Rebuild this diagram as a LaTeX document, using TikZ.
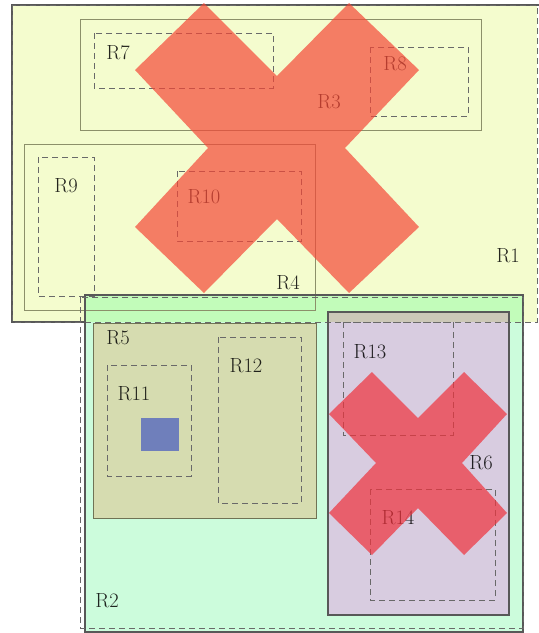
\documentclass[tikz,border=0pt]{standalone}
\usetikzlibrary{backgrounds}
\definecolor{yfill}{RGB}{244,252,206}
\definecolor{gfill}{RGB}{204,252,220}
\definecolor{ygfill}{RGB}{194,252,186}
\definecolor{ofill}{RGB}{214,220,176}
\definecolor{pfill}{RGB}{216,204,224}
\definecolor{pyfill}{RGB}{204,200,184}
\definecolor{xone}{RGB}{244,72,55}
\definecolor{xtwo}{RGB}{239,50,60}
\definecolor{bsq}{RGB}{111,127,187}
\definecolor{darkline}{RGB}{88,88,88}
\definecolor{oline}{RGB}{140,144,106}
\definecolor{dline}{RGB}{105,105,105}
\tikzset{
  solidbox/.style={draw=darkline, line width=1.6pt},
  thinbox/.style={draw=oline, line width=1pt},
  dashbox/.style={draw=dline, line width=0.9pt, dash pattern=on 6pt off 4pt},
  lbl/.style={text=black, text opacity=0.85, inner sep=0pt, font=\fontsize{20.5}{24}\selectfont},
  crossone/.style={fill=xone, fill opacity=0.7},
  crosstwo/.style={fill=xtwo, fill opacity=0.7}
}
\begin{document}
\begin{tikzpicture}[x=1pt,y=-1pt]
\useasboundingbox (0,0) rectangle (539,633);
% fills
\fill[yfill] (12,5) rectangle (537,322);
\fill[gfill] (85,295) rectangle (523,632);
\fill[ygfill] (85,295) rectangle (523,322);
\fill[ofill] (93,323) rectangle (316,518);
\fill[pfill] (328,312) rectangle (509,615);
\fill[pyfill] (328,312) rectangle (509,322);
% R1 borders
\draw[darkline, line width=1.6pt] (541,5) -- (12,5) -- (12,322) -- (85,322);
\draw[dashbox] (12,5) rectangle (537,322);
% R3, R4
\draw[thinbox] (80,19) rectangle (481,130);
\draw[thinbox] (24,144) rectangle (315,310);
% R7..R10
\draw[dashbox] (94,33) rectangle (273,88);
\draw[dashbox] (370,47) rectangle (468,116);
\draw[dashbox] (38,157) rectangle (94,296);
\draw[dashbox] (177,171) rectangle (301,241);
% R2
\draw[solidbox] (85,295) rectangle (523,632);
\draw[dashbox] (80,297) rectangle (523,628);
% R5
\draw[draw=oline!80!black, line width=1pt] (93,323) rectangle (316,518);
\draw[dashbox] (107,365) rectangle (191,476);
\draw[dashbox] (218,337) rectangle (301,503);
\fill[bsq] (141,418) rectangle (179,451);
% R6
\draw[solidbox] (328,312) rectangle (509,615);
\draw[dashbox] (343,322) rectangle (453,435);
\draw[dashbox] (370,489) rectangle (495,600);
% labels
\node[lbl] (l1) at (508,256) {R1};
\node[lbl] (l2) at (107,601) {R2};
\node[lbl] (l3) at (329,102) {R3};
\node[lbl] (l4) at (288,283) {R4};
\node[lbl] (l5) at (118,338) {R5};
\node[lbl] (l6) at (481,463) {R6};
\node[lbl] (l7) at (118,53) {R7};
\node[lbl] (l8) at (395,64) {R8};
\node[lbl] (l9) at (66,186) {R9};
\node[lbl] (l10) at (204,197) {R10};
\node[lbl] (l11) at (134,394) {R11};
\node[lbl] (l12) at (246,366) {R12};
\node[lbl] (l13) at (370,352) {R13};
\node[lbl] (l14) at (398,518) {R14};
% crosses
\fill[crossone] (204,3) -- (277,76) -- (349,3) -- (419,70) -- (345,148) -- (419,227)
  -- (349,293) -- (277,219) -- (204,293) -- (135,227) -- (208,148) -- (135,70) -- cycle;
\fill[crosstwo] (372,372) -- (418,418) -- (464,372) -- (507,414) -- (462,463) -- (507,513)
  -- (464,555) -- (418,508) -- (372,555) -- (329,513) -- (376,463) -- (329,414) -- cycle;
\end{tikzpicture}
\end{document}
